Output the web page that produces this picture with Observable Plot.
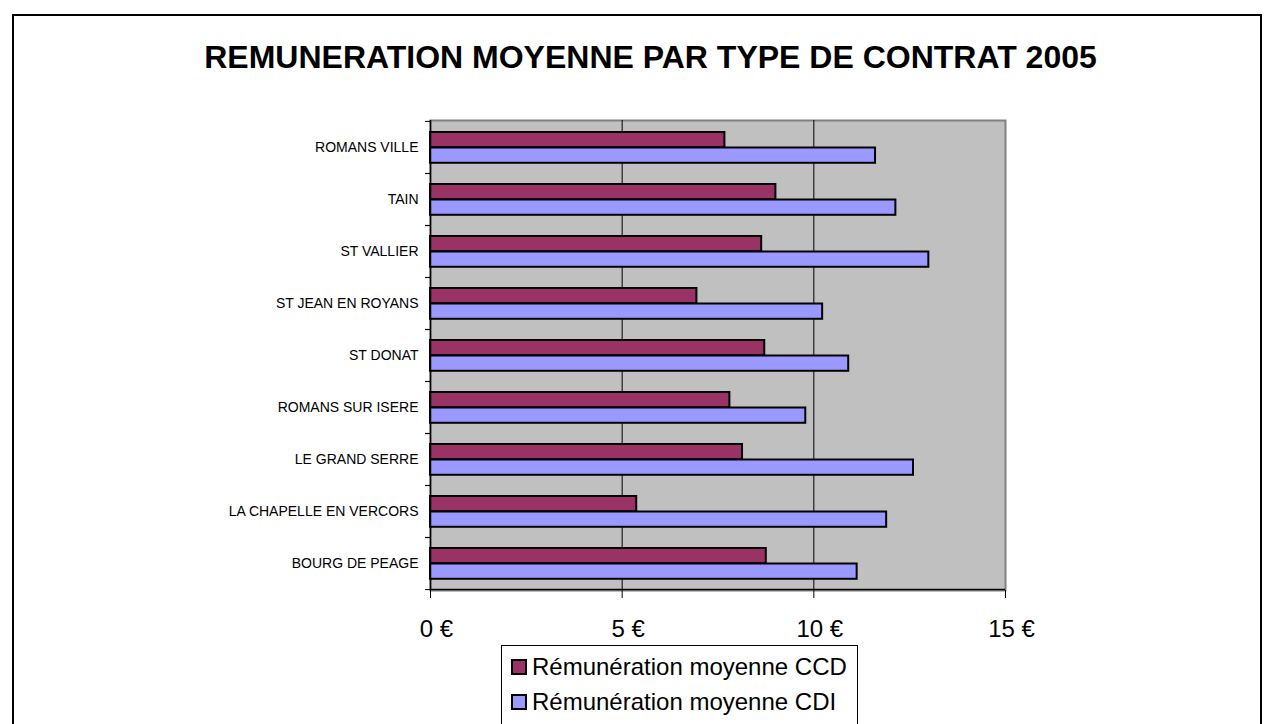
<!DOCTYPE html>
<html><head><meta charset="utf-8">
<script src="https://cdn.jsdelivr.net/npm/d3@7"></script>
<script src="https://cdn.jsdelivr.net/npm/@observablehq/plot@0.6"></script>
<style>
body{margin:0;background:#fff;font-family:Arial,"Liberation Sans",sans-serif;}
#wrap{position:relative;width:1274px;height:724px;overflow:hidden;}
#border{position:absolute;left:12px;top:14px;width:1250px;height:780px;border:2px solid #000;box-sizing:border-box;}
#title{position:absolute;left:27px;top:41px;width:1247px;text-align:center;font-weight:bold;font-size:32px;line-height:32px;white-space:nowrap;}
#chart{position:absolute;left:0;top:90px;}
#legend{position:absolute;left:501px;top:645px;height:120px;border:1px solid #000;background:#fff;padding:3px 10px 0 9px;box-sizing:border-box;}
.row{display:flex;align-items:center;height:35px;font-size:24px;white-space:nowrap;}
.sw{width:12px;height:12px;border:2px solid #000;margin-right:5px;flex:none;}
</style></head>
<body><div id="wrap">
<div id="border"></div>
<div id="title"></div>
<div id="chart"></div>
<div id="legend"></div>
</div>
<script>
const title = "REMUNERATION MOYENNE PAR TYPE DE CONTRAT 2005";
const categories = ["ROMANS VILLE","TAIN","ST VALLIER","ST JEAN EN ROYANS","ST DONAT","ROMANS SUR ISERE","LE GRAND SERRE","LA CHAPELLE EN VERCORS","BOURG DE PEAGE"];
const ccd = [7.68, 9.01, 8.64, 6.95, 8.72, 7.81, 8.14, 5.38, 8.76];
const cdi = [11.61, 12.14, 13.0, 10.23, 10.91, 9.79, 12.6, 11.9, 11.13];
const seriesNames = ["Rémunération moyenne CCD", "Rémunération moyenne CDI"];
const colors = ["#993366", "#9999FF"];
const xTicks = [0, 5, 10, 15];
const gridValues = [5, 10];

document.getElementById("title").textContent = title;

const W = 1274, H = 560, mT = 30, mB = 60, mL = 430, mR = 269;
const band = (H - mT - mB) / categories.length;
const barH = 15.5, outer = 11;

const dataCCD = categories.map((c, i) => ({cat: c, v: ccd[i]}));
const dataCDI = categories.map((c, i) => ({cat: c, v: cdi[i]}));

const chart = Plot.plot({
  width: W, height: H,
  marginTop: mT, marginBottom: mB, marginLeft: mL, marginRight: mR,
  style: {fontFamily: "Arial, 'Liberation Sans', sans-serif", color: "#000", background: "transparent", overflow: "visible"},
  x: {domain: [0, 15]},
  y: {domain: categories, padding: 0},
  marks: [
    Plot.frame({fill: "#C0C0C0", stroke: "#808080", strokeWidth: 2}),
    Plot.ruleX(gridValues, {stroke: "#000", strokeWidth: 1}),
    Plot.barX(dataCCD, {x: "v", y: "cat", fill: colors[0], stroke: "#000", strokeWidth: 2,
      insetTop: outer, insetBottom: band - outer - barH}),
    Plot.barX(dataCDI, {x: "v", y: "cat", fill: colors[1], stroke: "#000", strokeWidth: 2,
      insetTop: outer + barH, insetBottom: band - outer - 2 * barH}),
    Plot.ruleX([0], {stroke: "#000", strokeWidth: 1.5}),
    Plot.ruleY([categories[categories.length - 1]], {dy: band / 2, stroke: "#000", strokeWidth: 1.5}),
    Plot.axisY({tickSize: 0, tickPadding: 12, fontSize: 14, fill: "#000", label: null}),
    Plot.axisY({text: null, tickSize: 5, dy: -band / 2, stroke: "#000", label: null}),
    Plot.axisY({text: null, tickSize: 5, dy: band / 2, stroke: "#000", label: null}),
    Plot.axisX({ticks: xTicks, tickSize: 8, text: null, stroke: "#000", label: null}),
    Plot.axisX({ticks: xTicks, tickSize: 0, tickPadding: 29, tickFormat: d => `${d} €`, fontSize: 24, fill: "#000", dx: 6, label: null})
  ]
});
document.getElementById("chart").appendChild(chart);

const legend = document.getElementById("legend");
seriesNames.forEach((name, i) => {
  const row = document.createElement("div");
  row.className = "row";
  const sw = document.createElement("span");
  sw.className = "sw";
  sw.style.background = colors[i];
  const t = document.createElement("span");
  t.textContent = name;
  row.appendChild(sw); row.appendChild(t);
  legend.appendChild(row);
});
</script>
</body></html>
